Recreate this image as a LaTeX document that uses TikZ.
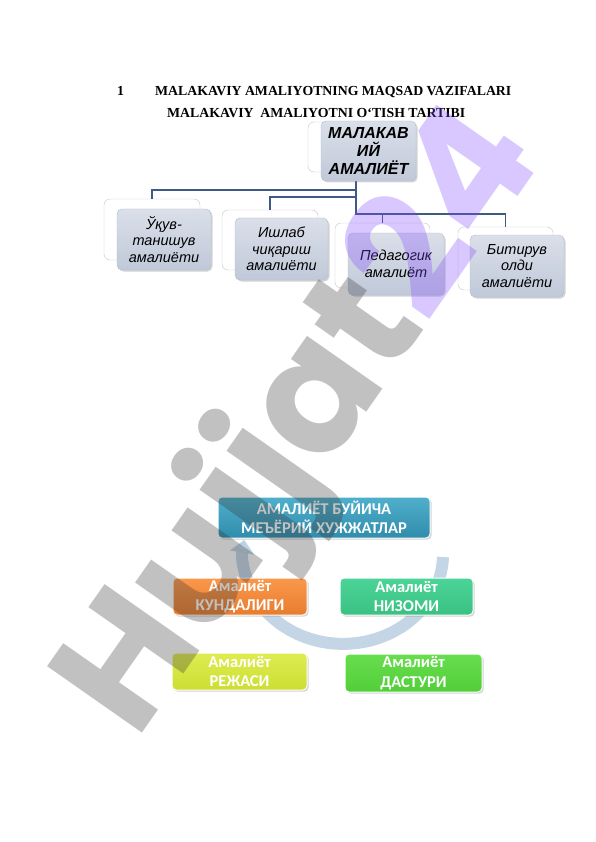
\documentclass[tikz,border=0pt]{standalone}
\usepackage{fontspec}
\usepackage{tikz}
\usepackage{xcolor}
\usetikzlibrary{shadows,arrows.meta}
\setmainfont{Liberation Serif}
\newfontfamily\diagfont{Liberation Sans}
\newfontfamily\calfont{Carlito}
\newfontfamily\wmfont{Poppins}
\definecolor{linkblue}{RGB}{63,90,132}
\definecolor{cardtop}{RGB}{218,223,233}
\definecolor{cardbot}{RGB}{192,201,217}
\definecolor{cardline}{RGB}{180,189,206}
\definecolor{arcblue}{RGB}{186,206,224}
\definecolor{normtop}{RGB}{80,176,204}
\definecolor{normbot}{RGB}{48,140,172}
\definecolor{kuntop}{RGB}{250,152,76}
\definecolor{kunbot}{RGB}{232,124,46}
\definecolor{niztop}{RGB}{76,212,152}
\definecolor{nizbot}{RGB}{56,194,130}
\definecolor{rejtop}{RGB}{222,236,80}
\definecolor{rejbot}{RGB}{204,222,52}
\definecolor{dastop}{RGB}{104,222,78}
\definecolor{dasbot}{RGB}{82,206,56}
\definecolor{wmgray}{RGB}{51,51,51}
\definecolor{wmpurple}{RGB}{130,70,255}
\tikzstyle{heading} = [anchor=base west, inner sep=0pt, font=\fontsize{13.8}{16}\selectfont\bfseries]
\tikzstyle{backcard} = [rectangle, rounded corners=6pt, draw=gray!45, fill=white, inner sep=0pt]
\tikzstyle{card} = [rectangle, rounded corners=5pt, draw=cardline, top color=cardtop, bottom color=cardbot, inner sep=0pt, align=center, drop shadow={opacity=0.35, shadow xshift=1.5pt, shadow yshift=-1.5pt}, font=\diagfont\itshape\fontsize{14.5}{16.5}\selectfont]
\tikzstyle{link} = [draw=linkblue, line width=1.6pt]
\tikzstyle{docbox} = [rectangle, rounded corners=4pt, draw=white, line width=1pt, inner sep=0pt, align=center, text=white, drop shadow={opacity=0.35, shadow xshift=1.5pt, shadow yshift=-1.5pt}, font=\calfont\bfseries\fontsize{16.5}{19.5}\selectfont]
\tikzstyle{cyclearrow} = [draw=arcblue, line width=12pt, opacity=0.85, -{Triangle[width=24pt,length=13pt]}]

\begin{document}
\begin{tikzpicture}[x=1pt,y=-1pt]
  \useasboundingbox (0,0) rectangle (596,842);

  \node[heading] (num) at (117,96) {1};
  \node[heading] (title) at (155,96) {MALAKAVIY AMALIYOTNING MAQSAD VAZIFALARI};
  \node[heading] (subtitle) at (167,118) {MALAKAVIY\ \ AMALIYOTNI O‘TISH TARTIBI};

  \node[backcard, minimum width=96pt, minimum height=50pt] (topback) at (356,147) {};
  \node[backcard, minimum width=96pt, minimum height=61pt] (oneback) at (152,229.5) {};
  \node[backcard, minimum width=96pt, minimum height=60pt] (twoback) at (270,240) {};
  \node[backcard, minimum width=95pt, minimum height=65pt] (threeback) at (382.5,255.5) {};
  \node[backcard, minimum width=95pt, minimum height=63pt] (fourback) at (505.5,258.5) {};

  \path[link] (topback.south) -- ++(0,18) -| (oneback.north);
  \path[link] (topback.south) -- ++(0,25) -| (twoback.north);
  \path[link] (topback.south) -- ++(0,42) -| (threeback.north);
  \path[link] (topback.south) -- ++(0,42) -| (fourback.north);

  \node[card, minimum width=95pt, minimum height=60pt, font=\diagfont\bfseries\itshape\fontsize{16}{18}\selectfont] (topfront) at (368.5,151) {МАЛАКАВ\\ИЙ\\АМАЛИЁТ};
  \node[card, minimum width=94pt, minimum height=61pt] (onefront) at (164,239.5) {Ўқув-\\танишув\\амалиёти};
  \node[card, minimum width=93pt, minimum height=62pt] (twofront) at (281.5,249) {Ишлаб\\чиқариш\\амалиёти};
  \node[card, minimum width=96pt, minimum height=62pt] (threefront) at (396,264) {Педагогик\\амалиёт};
  \node[card, minimum width=94pt, minimum height=62pt] (fourfront) at (517,266) {Битирув\\олди\\амалиёти};

  \coordinate (cyclestart) at (443,557);
  \draw[cyclearrow] (cyclestart) arc[start angle=-2, end angle=-189, x radius=100pt, y radius=90pt];

  \node[docbox, top color=normtop, bottom color=normbot, minimum width=212pt, minimum height=41pt] (norm) at (324,517.5) {АМАЛИЁТ БУЙИЧА\\МЕЪЁРИЙ ХУЖЖАТЛАР};
  \node[docbox, top color=kuntop, bottom color=kunbot, minimum width=134pt, minimum height=37pt] (kundalik) at (240,596.5) {Амалиёт\\КУНДАЛИГИ};
  \node[docbox, top color=niztop, bottom color=nizbot, minimum width=133pt, minimum height=37pt] (nizom) at (406.5,596.5) {Амалиёт\\НИЗОМИ};
  \node[docbox, top color=rejtop, bottom color=rejbot, minimum width=135pt, minimum height=37pt] (reja) at (239.5,671.5) {Амалиёт\\РЕЖАСИ};
  \node[docbox, top color=dastop, bottom color=dasbot, minimum width=137pt, minimum height=38pt] (dastur) at (413.5,673) {Амалиёт\\ДАСТУРИ};

  \node[anchor=base west, inner sep=0pt, rotate=55, text opacity=0.3, font=\wmfont\bfseries\fontsize{165}{170}\selectfont] (watermark) at (136,742) {\textcolor{wmgray}{Hujjat}\textcolor{wmpurple}{24}};
\end{tikzpicture}
\end{document}
